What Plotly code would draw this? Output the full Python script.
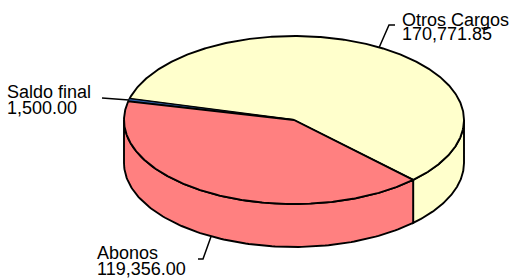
import numpy as np
import plotly.graph_objects as go

# ---- data ----
labels = ["Otros Cargos", "Saldo final", "Abonos"]
values = [170771.85, 1500.00, 119356.00]
colors = ["#FFFFCC", "#2F5FA8", "#FF8080"]

# ---- geometry (pixel-like plotting space) ----
W, H = 511, 279
CX, CY = 294, 120          # centre of top face
RX, RY = 170, 84           # ellipse radii
DEPTH = 43                 # thickness of the pie
START = -45.5              # start angle (deg, counter-clockwise)

# label placement: text anchor (x, y of line1, y of line2) and leader elbow/end
label_pos = {
    "Otros Cargos": dict(tx=401, y1=19.5, y2=34.0, pts=[(389, 25), (395, 25)]),
    "Saldo final": dict(tx=6, y1=91.8, y2=107.8, pts=[(102, 98)]),
    "Abonos": dict(tx=96, y1=253.0, y2=269.3, pts=[(203, 259), (198, 259)]),
}

total = sum(values)
spans = [v / total * 360 for v in values]
bounds = []
a = START
for s in spans:
    bounds.append((a, a + s))
    a += s


def ell(t, dy=0.0):
    r = np.radians(t)
    return CX + RX * np.cos(r), CY - RY * np.sin(r) + dy


fig = go.Figure()
line_col = "black"
LW = 1.9

# side walls (front half: 180..360 deg)
for (a1, a2), col in zip(bounds, colors):
    for k in (-360, 0, 360):
        lo, hi = max(a1 + k, 180), min(a2 + k, 360)
        if hi <= lo:
            continue
        t = np.linspace(lo, hi, 120)
        xt, yt = ell(t)
        xb, yb = ell(t[::-1], DEPTH)
        xs = np.concatenate([xt, xb, xt[:1]])
        ys = np.concatenate([yt, yb, yt[:1]])
        fig.add_trace(go.Scatter(x=xs, y=ys, mode="lines", fill="toself",
                                 fillcolor=col, line=dict(color=line_col, width=LW),
                                 hoverinfo="skip", showlegend=False))

# top faces
for (a1, a2), col, lab in zip(bounds, colors, labels):
    n = max(int((a2 - a1) * 2), 4)
    t = np.linspace(a1, a2, n)
    xt, yt = ell(t)
    xs = np.concatenate([[CX], xt, [CX]])
    ys = np.concatenate([[CY], yt, [CY]])
    w = LW if (a2 - a1) > 10 else 0.8
    fig.add_trace(go.Scatter(x=xs, y=ys, mode="lines", fill="toself",
                             fillcolor=col, line=dict(color=line_col, width=w),
                             hoverinfo="skip", showlegend=False))

# leader lines and labels
font = dict(family="Liberation Sans, Arial, sans-serif", size=18, color="black")
for (a1, a2), lab, val in zip(bounds, labels, values):
    mid = (a1 + a2) / 2
    dy = DEPTH if np.sin(np.radians(mid)) < 0 else 0
    sx, sy = ell(mid, dy)
    p = label_pos[lab]
    xs = [float(sx)] + [q[0] for q in p["pts"]]
    ys = [float(sy)] + [q[1] for q in p["pts"]]
    fig.add_trace(go.Scatter(x=xs, y=ys, mode="lines",
                             line=dict(color="black", width=1.5),
                             hoverinfo="skip", showlegend=False))
    for txt, yy in ((lab, p["y1"]), (f"{val:,.2f}", p["y2"])):
        fig.add_annotation(x=p["tx"], y=yy, text=txt, showarrow=False,
                           xanchor="left", yanchor="middle", borderpad=0,
                           font=font)

fig.update_layout(
    width=W, height=H, margin=dict(l=0, r=0, t=0, b=0),
    paper_bgcolor="white", plot_bgcolor="white",
    xaxis=dict(range=[0, W], visible=False, fixedrange=True),
    yaxis=dict(range=[H, 0], visible=False, fixedrange=True),
    showlegend=False,
)
fig.write_html(
    "out.html",
    config={"displayModeBar": False},
    post_script="document.body.style.margin='0';document.body.style.overflow='hidden';",
)
